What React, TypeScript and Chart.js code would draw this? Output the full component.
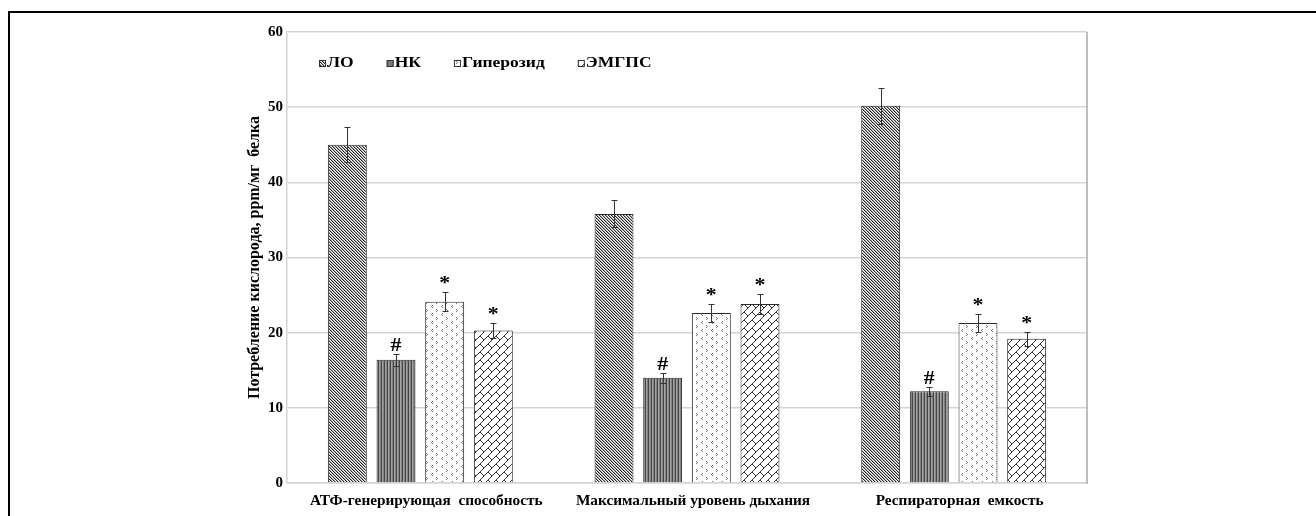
import React, { useEffect, useRef } from "react";
import { Chart, registerables } from "chart.js";

Chart.register(...registerables);

// ---- data ----
const categories = [
  "АТФ-генерирующая  способность",
  "Максимальный уровень дыхания",
  "Респираторная  емкость",
];
const seriesNames = ["ЛО", "НК", "Гиперозид", "ЭМГПС"];
const loValues = [45.0, 35.8, 50.2];
const loErrors = [2.3, 1.8, 2.4];
const nkValues = [16.4, 14.0, 12.2];
const nkErrors = [0.8, 0.65, 0.6];
const hypValues = [24.1, 22.6, 21.3];
const hypErrors = [1.25, 1.2, 1.2];
const emgpsValues = [20.3, 23.8, 19.2];
const emgpsErrors = [1.05, 1.3, 0.95];
const loMarks = ["", "", ""];
const nkMarks = ["#", "#", "#"];
const hypMarks = ["*", "*", "*"];
const emgpsMarks = ["*", "*", "*"];
const yTickValues = [0, 10, 20, 30, 40, 50, 60];
const yTitle = "Потребление кислорода, ppm/мг  белка";

const allValues = [loValues, nkValues, hypValues, emgpsValues];
const allErrors = [loErrors, nkErrors, hypErrors, emgpsErrors];
const allMarks = [loMarks, nkMarks, hypMarks, emgpsMarks];

const FONT = '"Liberation Serif", "Times New Roman", serif';

function tile(w: number, h: number, draw: (c: CanvasRenderingContext2D) => void) {
  const c = document.createElement("canvas");
  c.width = w;
  c.height = h;
  const g = c.getContext("2d")!;
  g.fillStyle = "#fff";
  g.fillRect(0, 0, w, h);
  draw(g);
  return c;
}

function makePatterns(ctx: CanvasRenderingContext2D) {
  // ЛО: fine "\" diagonal hatch
  const p1 = tile(3, 3, (g) => {
    for (let x = 0; x < 3; x++)
      for (let y = 0; y < 3; y++) {
        const k = (((x - y) % 3) + 3) % 3;
        if (k === 0) {
          g.fillStyle = "#262626";
          g.fillRect(x, y, 1, 1);
        } else if (k === 1) {
          g.fillStyle = "#aaaaaa";
          g.fillRect(x, y, 1, 1);
        }
      }
  });
  // НК: vertical stripes on grey
  const p2 = tile(3, 1, (g) => {
    const cols = ["#444444", "#a4a4a4", "#828282"];
    cols.forEach((c, i) => {
      g.fillStyle = c;
      g.fillRect(i, 0, 1, 1);
    });
  });
  // Гиперозид: sparse small marks
  const p3 = tile(10, 8, (g) => {
    g.fillStyle = "#7a7a7a";
    const mark = (x: number, y: number, flip: boolean) => {
      if (flip) {
        g.fillRect(x, y, 1, 1);
        g.fillRect(x + 1, y + 1, 1, 1);
        g.fillRect(x, y + 2, 1, 1);
      } else {
        g.fillRect(x + 1, y, 1, 1);
        g.fillRect(x, y + 1, 1, 1);
        g.fillRect(x + 1, y + 2, 1, 1);
      }
    };
    mark(1, 1, false);
    mark(6, 5, true);
  });
  // ЭМГПС: diagonal brick
  const p4 = tile(16, 16, (g) => {
    g.strokeStyle = "#333";
    g.lineWidth = 1;
    g.beginPath();
    for (let k = -4; k <= 8; k++) {
      const v = 8 * k;
      g.moveTo(v + 20, -20);
      g.lineTo(-20, v + 20);
      const off = k % 2 === 0 ? 0 : 8;
      for (let u = -64 + off; u <= 64; u += 16) {
        const x1 = (u + v) / 2, y1 = (v - u) / 2;
        const x2 = (u + v + 8) / 2, y2 = (v + 8 - u) / 2;
        g.moveTo(x1, y1);
        g.lineTo(x2, y2);
      }
    }
    g.stroke();
  });
  return [p1, p2, p3, p4].map((c) => ctx.createPattern(c, "repeat")!);
}

export default function App() {
  const ref = useRef<HTMLCanvasElement>(null);

  useEffect(() => {
    const canvas = ref.current!;
    const ctx = canvas.getContext("2d")!;
    const patterns = makePatterns(ctx);

    const errorPlugin = {
      id: "errorBars",
      afterDatasetsDraw(chart: any) {
        const c = chart.ctx;
        const ys = chart.scales.y;
        chart.data.datasets.forEach((ds: any, i: number) => {
          const meta = chart.getDatasetMeta(i);
          meta.data.forEach((bar: any, j: number) => {
            const v = allValues[i][j];
            const e = allErrors[i][j];
            const x = Math.round(bar.x) + 0.5;
            const yt = Math.round(ys.getPixelForValue(v + e)) + 0.5;
            const yb = Math.round(ys.getPixelForValue(v - e)) + 0.5;
            c.save();
            c.strokeStyle = "#333";
            c.lineWidth = 1;
            c.beginPath();
            c.moveTo(x, yt);
            c.lineTo(x, yb);
            c.moveTo(x - 3, yt);
            c.lineTo(x + 3, yt);
            c.moveTo(x - 3, yb);
            c.lineTo(x + 3, yb);
            c.stroke();
            const m = allMarks[i][j];
            if (m) {
              c.fillStyle = "#000";
              c.font = `bold 19px ${FONT}`;
              c.textAlign = "center";
              c.textBaseline = "alphabetic";
              c.translate(bar.x, yt - 4);
              c.scale(1.15, 1);
              c.fillText(m, 0, 0);
            }
            c.restore();
          });
        });
      },
    };

    const framePlugin = {
      id: "frame",
      afterDraw(chart: any) {
        const c = chart.ctx;
        const { left, top, right, bottom } = chart.chartArea;
        c.save();
        c.strokeStyle = "#a8a8a8";
        c.lineWidth = 1.5;
        c.beginPath();
        c.moveTo(right, top);
        c.lineTo(right, bottom + 1);
        c.stroke();
        // legend inside the plot
        let x = left + 32;
        const yc = top + 31;
        const sx = 1.25;
        c.font = `bold 14px ${FONT}`;
        c.textBaseline = "middle";
        c.textAlign = "left";
        chart.data.datasets.forEach((ds: any, i: number) => {
          c.fillStyle = i === 1 ? "#7c7c7c" : patterns[i];
          c.fillRect(x, yc - 3, 7, 7);
          c.strokeStyle = "#333";
          c.lineWidth = 1;
          c.strokeRect(x + 0.5, yc - 2.5, 6, 6);
          c.fillStyle = "#000";
          const tw = c.measureText(ds.label).width * sx;
          c.save();
          c.translate(x + 8, yc);
          c.scale(sx, 1);
          c.fillText(ds.label, 0, 0);
          c.restore();
          x += 8 + tw + 33;
        });
        c.restore();
      },
    };

    const chart = new Chart(canvas, {
      type: "bar",
      data: {
        labels: categories,
        datasets: seriesNames.map((name, i) => ({
          label: name,
          data: allValues[i],
          backgroundColor: patterns[i],
          borderColor: "#2a2a2a",
          borderWidth: 1,
          categoryPercentage: 0.73,
          barPercentage: 0.8,
        })),
      },
      options: {
        responsive: false,
        animation: false,
        devicePixelRatio: 1,
        layout: { padding: { left: 241, top: 32, right: 229, bottom: 0 } },
        plugins: {
          legend: { display: false },
          tooltip: { enabled: false },
        },
        scales: {
          x: {
            grid: { display: false },
            border: { display: true, color: "#d4d4d4", width: 1.5 },
            ticks: {
              color: "#000",
              font: { family: FONT, size: 15.3, weight: "bold" },
              padding: 1,
              labelOffset: 6,
              maxRotation: 0,
              autoSkip: false,
            },
            afterFit(scale: any) {
              scale.height = 33;
            },
          },
          y: {
            min: 0,
            max: 60,
            afterBuildTicks(scale: any) {
              scale.ticks = yTickValues.map((v) => ({ value: v }));
            },
            grid: { color: "#d4d4d4", lineWidth: 1.5, drawTicks: false, tickLength: 0 },
            border: { display: true, color: "#d4d4d4", width: 1.5 },
            ticks: {
              color: "#000",
              font: { family: FONT, size: 15, weight: "bold" },
              padding: 4,
            },
            title: {
              display: true,
              text: yTitle,
              color: "#000",
              font: { family: FONT, size: 16, weight: "bold" },
              padding: { top: 4, bottom: 0 },
            },
            afterFit(scale: any) {
              scale.width = 46;
            },
          },
        },
      },
      plugins: [errorPlugin, framePlugin],
    } as any);

    return () => chart.destroy();
  }, []);

  return (
    <div
      style={{
        position: "absolute",
        left: 0,
        top: 0,
        width: 1316,
        height: 516,
        background: "#fff",
        overflow: "hidden",
      }}
    >
      <div
        style={{
          position: "absolute",
          left: 8,
          top: 11,
          right: 0,
          bottom: 0,
          borderTop: "2px solid #000",
          borderLeft: "2px solid #000",
        }}
      />
      <canvas
        ref={ref}
        width={1316}
        height={516}
        style={{ position: "absolute", left: 0, top: 0, width: 1316, height: 516 }}
      />
    </div>
  );
}
